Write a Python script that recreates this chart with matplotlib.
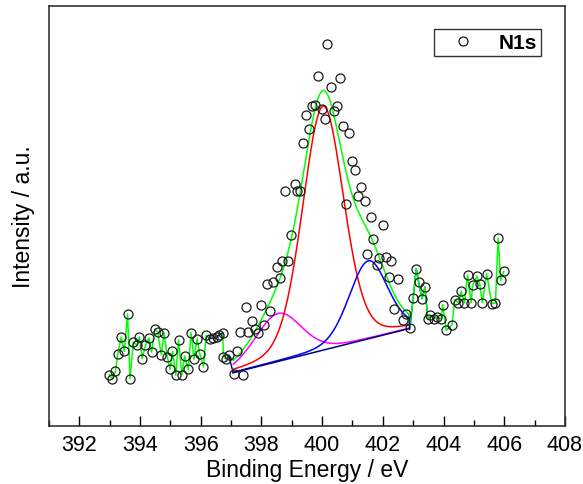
import numpy as np
import matplotlib.pyplot as plt

plt.rcParams['font.family'] = ['Liberation Sans', 'DejaVu Sans']

# measured N1s points (binding energy in eV, intensity in arbitrary units)
energy = [392.99, 393.08, 393.19, 393.27, 393.38, 393.48, 393.59, 393.67, 393.78, 393.90,
          393.98, 394.07, 394.18, 394.29, 394.38, 394.49, 394.58, 394.70, 394.79, 394.90,
          394.99, 395.07, 395.18, 395.27, 395.38, 395.47, 395.59, 395.68, 395.78, 395.88,
          395.97, 396.09, 396.18, 396.29, 396.41, 396.52, 396.61, 396.72, 396.75, 396.84,
          396.92, 397.09, 397.18, 397.29, 397.38, 397.48, 397.55, 397.69, 397.78, 397.89,
          397.98, 398.10, 398.19, 398.29, 398.38, 398.50, 398.60, 398.69, 398.78, 398.88,
          398.99, 399.09, 399.17, 399.28, 399.37, 399.47, 399.58, 399.67, 399.77, 399.87,
          400.00, 400.08, 400.17, 400.29, 400.38, 400.49, 400.60, 400.69, 400.78, 400.90,
          400.99, 401.08, 401.18, 401.29, 401.40, 401.49, 401.60, 401.69, 401.80, 401.88,
          402.00, 402.09, 402.20, 402.28, 402.38, 402.49, 402.66, 402.78, 402.89, 403.00,
          403.10, 403.18, 403.29, 403.39, 403.48, 403.57, 403.69, 403.80, 403.92, 403.97,
          404.09, 404.28, 404.37, 404.49, 404.58, 404.69, 404.79, 404.91, 404.96, 405.10,
          405.19, 405.28, 405.42, 405.59, 405.71, 405.80, 405.88, 405.99]
intensity = [51.3, 47.3, 54.7, 72.0, 89.0, 74.7, 112.0, 47.3, 84.0, 80.7,
             89.0, 67.3, 80.7, 88.0, 74.0, 96.7, 94.0, 71.3, 93.3, 69.0,
             56.7, 74.7, 50.7, 86.0, 51.3, 70.0, 56.7, 93.3, 66.7, 87.3,
             72.0, 59.3, 90.7, 87.3, 88.0, 88.7, 91.3, 93.0, 69.3, 67.3,
             70.7, 52.0, 74.7, 94.0, 51.3, 119.0, 94.0, 104.7, 97.3, 92.7,
             120.7, 101.3, 142.0, 114.7, 143.7, 159.3, 148.0, 164.7, 234.7, 164.7,
             190.7, 242.3, 234.7, 234.7, 282.7, 310.7, 297.3, 319.7, 321.3, 350.0,
             317.3, 306.7, 382.3, 339.0, 314.7, 320.0, 348.0, 300.0, 222.0, 293.3,
             264.7, 255.7, 229.7, 239.0, 224.7, 171.7, 208.7, 186.7, 160.7, 168.0,
             200.7, 169.0, 149.0, 164.7, 117.3, 146.7, 105.7, 112.3, 98.0, 128.0,
             157.3, 144.0, 127.3, 139.0, 106.7, 110.7, 107.3, 109.0, 107.3, 121.3,
             95.7, 101.3, 126.3, 123.3, 134.7, 123.3, 150.7, 123.3, 140.7, 149.7,
             142.3, 123.3, 152.0, 122.3, 123.0, 188.0, 145.7, 154.7]

# fit window and linear background
fit_start, fit_end = 397.07, 402.85
bg_start, bg_end = 53.3, 97.3

# fitted components: centre (eV), fwhm (eV), height
magenta_peak = (398.55, 1.80, 48)
red_peak = (400.03, 1.60, 244)
blue_peak = (401.52, 1.50, 78)
eta = 0.2  # lorentzian fraction


def pseudo_voigt(x, centre, fwhm, height):
    d = (x - centre) / fwhm
    return height * ((1 - eta) * np.exp(-4 * np.log(2) * d ** 2) + eta / (1 + 4 * d ** 2))


energy = np.array(energy)
intensity = np.array(intensity)

x_fit = np.linspace(fit_start, fit_end, 400)
background = bg_start + (x_fit - fit_start) / (fit_end - fit_start) * (bg_end - bg_start)
magenta = pseudo_voigt(x_fit, *magenta_peak)
red = pseudo_voigt(x_fit, *red_peak)
blue = pseudo_voigt(x_fit, *blue_peak)
envelope = background + magenta + red + blue

left = energy < fit_start
right = energy > fit_end

fig = plt.figure(figsize=(5.83, 4.85), dpi=100)
ax = fig.add_axes([0.084, 0.1196, 0.885, 0.866])

# green line: raw data outside the window, fitted sum inside
green_x = np.concatenate([energy[left], x_fit, energy[right]])
green_y = np.concatenate([intensity[left], envelope, intensity[right]])
ax.plot(green_x, green_y, color='#00ff00', lw=1.1, zorder=2)

# little blue / navy bits where the component curves run over the data
near_left = (energy > 396.25) & (energy < 396.75)
ax.plot(energy[near_left], intensity[near_left], color='#1a1aa0', lw=1.0, zorder=2)
ax.plot([energy[left][-1], fit_start], [intensity[left][-1], bg_start], color='#000080', lw=1.0, zorder=3)
near_right = (energy > fit_end) & (energy < 403.5)
ax.plot(np.concatenate([[fit_end], energy[near_right]]),
        np.concatenate([[envelope[-1]], intensity[near_right]]), color='#0000ff', lw=1.0, zorder=1.5)

ax.plot(x_fit, background + magenta, color='#ff00ff', lw=1.1, zorder=3)
ax.plot(x_fit, background + red, color='#ff0000', lw=1.1, zorder=3)
ax.plot(x_fit, background + blue, color='#0000ff', lw=1.1, zorder=3)
ax.plot([fit_end, fit_end], [bg_end, (background + blue)[-1]], color='#000080', lw=1.0, zorder=3)
ax.plot(x_fit, background, color='#000080', lw=1.1, zorder=3)

ax.plot(energy, intensity, 'o', ms=6.5, mfc='none', mec='#1a1a1a', mew=0.9, zorder=4, label='N1s')

ax.set_xlim(391, 408)
ax.set_ylim(0, 420)
ax.set_xticks(np.arange(392, 409, 2))
ax.set_xticks(np.arange(391, 409, 1), minor=True)
ax.set_yticks([])
ax.tick_params(axis='x', which='major', direction='in', length=7, width=1, labelsize=15.5, pad=6)
ax.tick_params(axis='x', which='minor', direction='in', length=4, width=1)
for sp in ax.spines.values():
    sp.set_linewidth(1.2)
    sp.set_color('#333333')

# the original crops this label at the bottom edge; keep it just inside
ax.set_xlabel('Binding Energy / eV', fontsize=16.5, labelpad=2)
ax.set_ylabel('Intensity / a.u.', fontsize=16.5, labelpad=10)

leg = ax.legend(loc='upper right', bbox_to_anchor=(0.9535, 0.945), borderaxespad=0,
                fancybox=False, edgecolor='black', handlelength=2.4,
                handletextpad=0.5, borderpad=0.2, prop={'weight': 'bold', 'size': 15})
leg.get_frame().set_linewidth(1.0)

fig.savefig('out.png', dpi=100)
